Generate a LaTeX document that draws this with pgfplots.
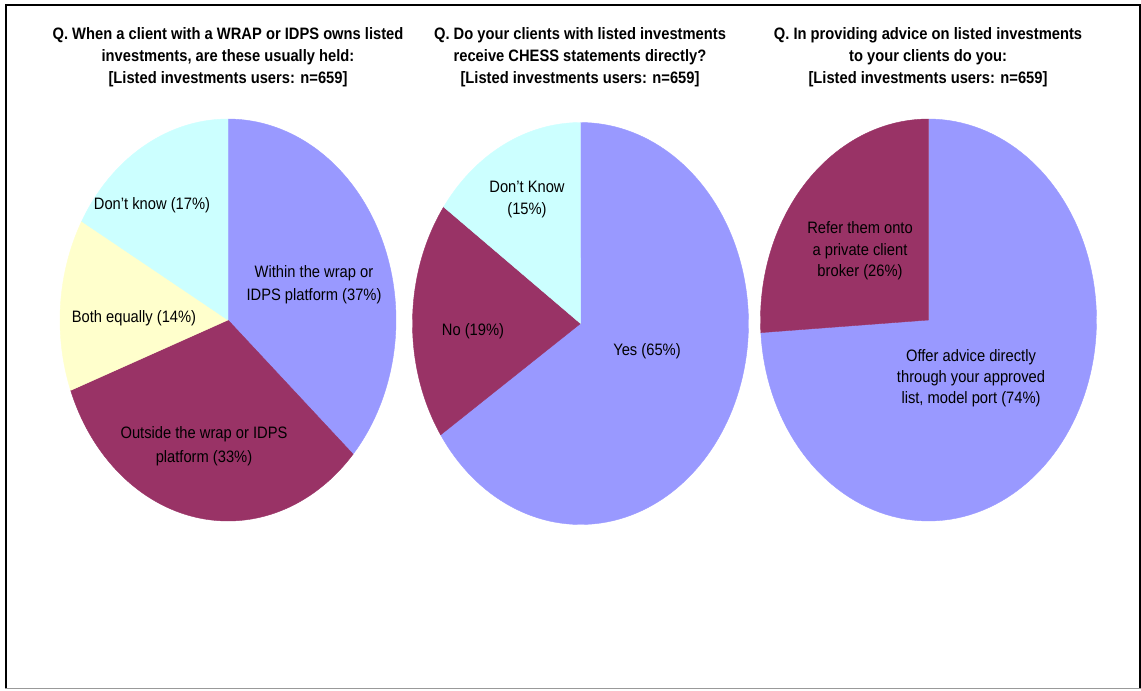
\documentclass[border=0pt]{standalone}
\usepackage{pgfplots}
\pgfplotsset{compat=1.18}
\usepackage{fontspec}
\setmainfont{Liberation Sans}[FakeStretch=0.89]

\definecolor{periw}{HTML}{9999FF}
\definecolor{plum}{HTML}{993366}
\definecolor{cream}{HTML}{FFFFCC}
\definecolor{ice}{HTML}{CCFFFF}

\pgfplotsset{
  pieaxis/.style={hide axis, scale only axis, width=252pt, height=301.5pt,
    xmin=-1, xmax=1, ymin=-1, ymax=1, clip=false, anchor=center},
}
% one wedge: #1 total, #2 running start, #3 share, #4 colour;
% angles run clockwise from twelve o'clock
\newcommand\slice[4]{%
  \addplot[fill=#4, draw=#4, line width=0.3pt,
    domain={360*(#2)/(#1)}:{360*(#2+#3)/(#1)}, samples=120]
    ({sin(x)},{cos(x)}) -- (axis cs:0,0) -- cycle;}

\newcommand\lbl{\fontsize{12.4}{16.5}\selectfont}
\newcommand\ttl{\fontsize{12.4}{16.5}\selectfont\bfseries}

\begin{document}
\begin{tikzpicture}
\path[use as bounding box] (0,0) rectangle (855.75pt,-517.5pt);

% ---- pie 1: where listed investments are held
\begin{axis}[pieaxis, at={(171pt,-240pt)}]
  \slice{101}{0}{37}{periw}
  \slice{101}{37}{33}{plum}
  \slice{101}{70}{14}{cream}
  \slice{101}{84}{17}{ice}
\end{axis}

% ---- pie 2: CHESS statements
\begin{axis}[pieaxis, at={(435.375pt,-242.625pt)}]
  \slice{99}{0}{65}{periw}
  \slice{99}{65}{19}{plum}
  \slice{99}{84}{15}{ice}
\end{axis}

% ---- pie 3: advice on listed investments
\begin{axis}[pieaxis, at={(696.375pt,-240pt)}]
  \slice{100}{0}{74}{periw}
  \slice{100}{74}{26}{plum}
\end{axis}

\begin{scope}[x=0.75pt, y=-0.75pt]
% frame
\draw[black, line width=1.5pt] (6,688) -- (6,5) -- (1140,5) -- (1140,688);
\draw[black!40, line width=1.2pt] (5,688.5) -- (1141,688.5);

% titles
\begin{scope}[every node/.style={font=\ttl, anchor=base, inner sep=0pt}]
  \node at (228,39) {Q. When a client with a WRAP or IDPS owns listed};
  \node at (228,61) {investments, are these usually held:};
  \node at (228,83) {[Listed investments users: n=659]};

  \node at (580,39) {Q. Do your clients with listed investments};
  \node at (580,61) {receive CHESS statements directly?};
  \node at (580,83) {[Listed investments users: n=659]};

  \node at (928,39) {Q. In providing advice on listed investments};
  \node at (928,61) {to your clients do you:};
  \node at (928,83) {[Listed investments users: n=659]};
\end{scope}

% slice labels
\begin{scope}[every node/.style={font=\lbl, anchor=base, inner sep=0pt}]
  \node at (152,209) {Don't know (17\%)};
  \node at (314,277) {Within the wrap or};
  \node at (314,300) {IDPS platform (37\%)};
  \node at (134,322) {Both equally (14\%)};
  \node at (204,438) {Outside the wrap or IDPS};
  \node at (204,462) {platform (33\%)};

  \node at (527,192) {Don't Know};
  \node at (527,214) {(15\%)};
  \node at (473,335) {No (19\%)};
  \node at (647,355) {Yes (65\%)};

  \node at (860,233) {Refer them onto};
  \node at (860,255) {a private client};
  \node at (860,276) {broker (26\%)};
  \node at (971,361) {Offer advice directly};
  \node at (971,382) {through your approved};
  \node at (971,403) {list, model port (74\%)};
\end{scope}
\end{scope}
\end{tikzpicture}
\end{document}
